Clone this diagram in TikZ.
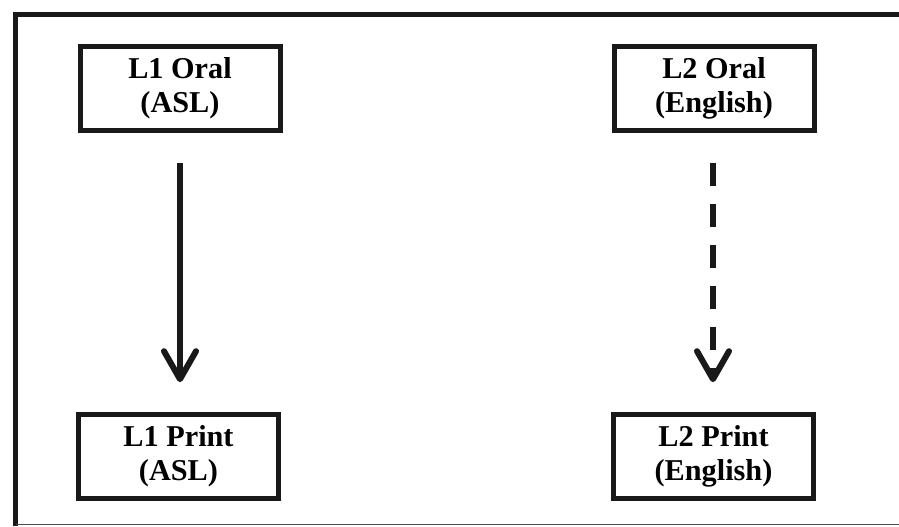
\documentclass[tikz,border=0pt]{standalone}
\usepackage{fontspec}
\setmainfont{Liberation Serif}
\usetikzlibrary{arrows.meta}
\tikzset{
    box/.style={draw=black!90, line width=3.75pt, rectangle, minimum width=150pt, minimum height=63pt, align=center, font=\fontsize{22.7}{25.5}\selectfont\bfseries},
    flow/.style={line width=4.5pt, draw=black!90, shorten <=22.5pt, shorten >=22pt, -{Straight Barb[length=21pt,width=24pt,round]}}
}

\begin{document}
\begin{tikzpicture}[x=0.75pt, y=-0.75pt]
    \useasboundingbox (0,0) rectangle (899,526);
    % frame
    \draw[line width=3.75pt, black!90] (15.5,526) -- (15.5,14) -- (899,14);
    \draw[line width=1.1pt, black!70] (15.5,524.5) -- (899,524.5);

    \node[box] (l1oral) at (180,88.5) {L1 Oral\\(ASL)};
    \node[box] (l2oral) at (714,88) {L2 Oral\\(English)};
    \node[box] (l1print) at (178.5,456) {L1 Print\\(ASL)};
    \node[box] (l2print) at (713.5,456) {L2 Print\\(English)};
    \draw[flow] (l1oral.south -| 180,0) -- (l1print.north -| 180,0);
    \draw[flow, dash pattern=on 17.25pt off 13.5pt] (l2oral.south -| 713,0) -- (l2print.north -| 713,0);
\end{tikzpicture}
\end{document}
